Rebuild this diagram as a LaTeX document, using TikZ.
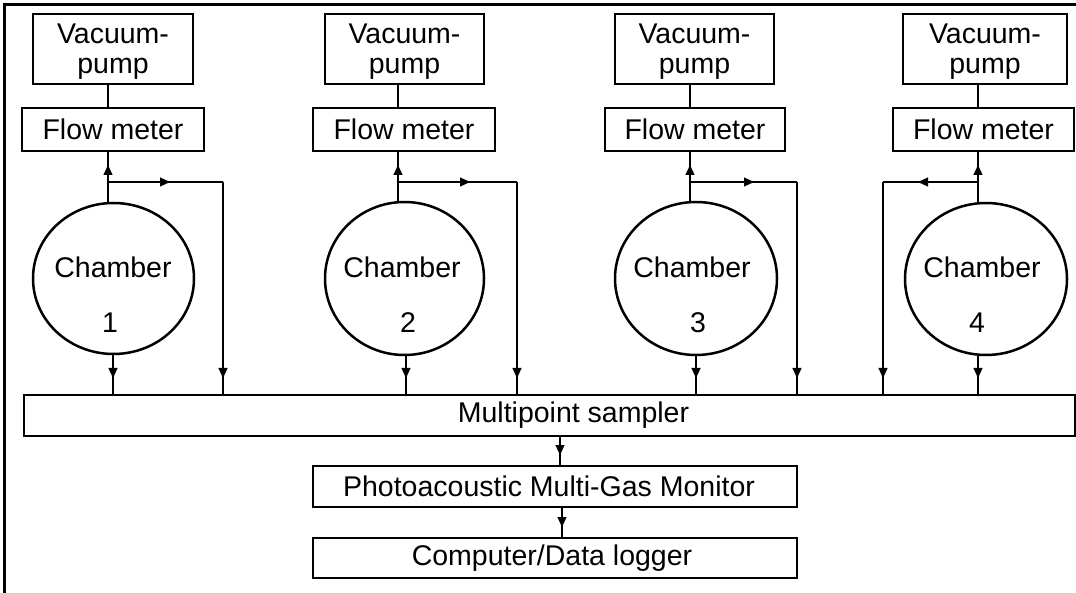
\documentclass[tikz,border=0pt]{standalone}
\usepackage{fontspec}
\setmainfont{Liberation Sans}
\usetikzlibrary{shapes.geometric,arrows.meta,decorations.markings}
\newcommand\diagfont{\fontsize{28.5}{30}\selectfont}
\tikzset{
  box/.style={draw, line width=1.4pt, rectangle, inner sep=0pt, outer sep=0pt, anchor=north west, align=center, font=\diagfont},
  pumpbox/.style={box, minimum height=70pt, text depth=0pt},
  chamber/.style={draw, ellipse, line width=2.5pt, inner sep=0pt, outer sep=0pt},
  ctext/.style={inner sep=0pt, font=\diagfont},
  conn/.style={line width=1.2pt},
  arrowat/.style={postaction={decorate}, decoration={markings, mark=at position #1 with {\arrow{Triangle[length=10pt,width=9pt]}}}},
  frameline/.style={line width=3pt}
}
\begin{document}
\begin{tikzpicture}[x=1pt,y=-1pt]
\useasboundingbox (0,0) rectangle (1076,593);
\draw[frameline] (1076,5) -- (4.5,5) -- (4.5,593);

% pumps
\node[pumpbox, minimum width=160pt] (p1) at (33,14) {Vacuum-\\pump};
\node[pumpbox, minimum width=159pt] (p2) at (325,14) {Vacuum-\\pump};
\node[pumpbox, minimum width=159pt] (p3) at (615,14) {Vacuum-\\pump};
\node[pumpbox, minimum width=164pt] (p4) at (903,14) {Vacuum-\\pump};
% flow meters
\node[box, minimum width=182pt, minimum height=43pt] (f1) at (22,108) {Flow meter};
\node[box, minimum width=182pt, minimum height=43pt] (f2) at (313,108) {Flow meter};
\node[box, minimum width=180pt, minimum height=43pt] (f3) at (605,108) {Flow meter};
\node[box, minimum width=181pt, minimum height=43pt] (f4) at (893,108) {Flow meter};
% chambers
\node[chamber, minimum width=161pt, minimum height=151pt] (c1) at (113.5,278.5) {};
\node[chamber, minimum width=159pt, minimum height=153pt] (c2) at (404.5,278.5) {};
\node[chamber, minimum width=162pt, minimum height=153pt] (c3) at (696,278.5) {};
\node[chamber, minimum width=162pt, minimum height=152pt] (c4) at (986,279) {};
\node[ctext] (t1a) at (113,267) {Chamber};
\node[ctext] (t1b) at (110,323) {1};
\node[ctext] (t2a) at (402,267) {Chamber};
\node[ctext] (t2b) at (408,323) {2};
\node[ctext] (t3a) at (692,267) {Chamber};
\node[ctext] (t3b) at (698,323) {3};
\node[ctext] (t4a) at (982,267) {Chamber};
\node[ctext] (t4b) at (977,323) {4};
% lower boxes
\node[box, minimum width=1051pt, minimum height=41pt] (s) at (24,395) {\hspace*{48pt}Multipoint sampler};
\node[box, minimum width=484pt, minimum height=41pt] (ph) at (313,466) {Photoacoustic Multi-Gas Monitor\hspace*{12pt}};
\node[box, minimum width=484pt, minimum height=40pt] (cd) at (313,538) {Computer/Data logger\hspace*{6pt}};

% line positions
\coordinate (u1) at (108,182); \coordinate (e1) at (223,182); \coordinate (d1) at (113,0);
\coordinate (u2) at (398,182); \coordinate (e2) at (517,182); \coordinate (d2) at (406,0);
\coordinate (u3) at (690,182); \coordinate (e3) at (797,182); \coordinate (d3) at (696,0);
\coordinate (u4) at (978,182); \coordinate (e4) at (883,182); \coordinate (d4) at (978,0);
\coordinate (m1) at (560,0); \coordinate (m2) at (562,0);

\foreach \k in {1,2,3,4}{
  \draw[conn] (p\k.south -| u\k) -- (f\k.north -| u\k);
  \draw[conn, arrowat=-14pt] (c\k.north -| u\k) -- (f\k.south -| u\k);
  \draw[conn, arrowat=-17pt] (e\k) -- (s.north -| e\k);
  \draw[conn, arrowat=-17pt] (c\k.south -| d\k) -- (s.north -| d\k);
}
\draw[conn, arrowat=62pt] (u1) -- (e1);
\draw[conn, arrowat=72pt] (u2) -- (e2);
\draw[conn, arrowat=64pt] (u3) -- (e3);
\draw[conn, arrowat=60pt] (u4) -- (e4);

\draw[conn, arrowat=-11pt] (s.south -| m1) -- (ph.north -| m1);
\draw[conn, arrowat=-11pt] (ph.south -| m2) -- (cd.north -| m2);
\end{tikzpicture}
\end{document}
